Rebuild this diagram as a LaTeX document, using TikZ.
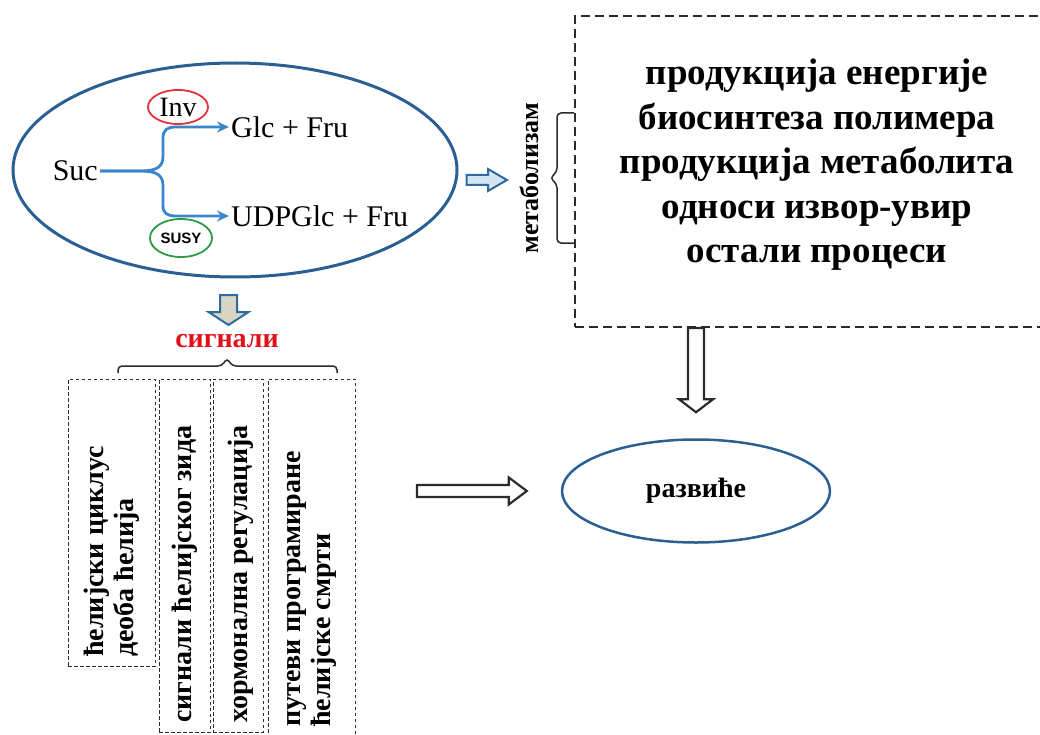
\documentclass[tikz,border=0pt]{standalone}
\usepackage{fontspec}
\setmainfont{Liberation Serif}
\newfontfamily\susyfont{Liberation Sans}
\usetikzlibrary{arrows.meta,calc,shapes.geometric}
\definecolor{ellblue}{HTML}{2A5F94}
\definecolor{rxblue}{HTML}{3A86CC}
\definecolor{arrblue}{HTML}{2E6BA3}
\definecolor{lightblue}{HTML}{D3E4F3}
\definecolor{tanfill}{HTML}{D9D5C3}
\definecolor{invred}{HTML}{E0323C}
\definecolor{susygreen}{HTML}{2A9A45}
\definecolor{sigred}{HTML}{E0101A}
\definecolor{darkline}{HTML}{2B2B2B}
\newcommand{\fsz}[1]{\fontsize{#1}{#1}\selectfont}
% block arrow to the right: style, start, end, shaft half, head half, head length
\newcommand{\blockright}[6]{\path[#1] let \p1=#2, \p2=#3 in
  (\x1,\y1+#4) -- (\x2-#6,\y1+#4) -- (\x2-#6,\y1+#5) -- (\x2,\y1) --
  (\x2-#6,\y1-#5) -- (\x2-#6,\y1-#4) -- (\x1,\y1-#4) -- cycle;}
% block arrow downwards
\newcommand{\blockdown}[6]{\path[#1] let \p1=#2, \p2=#3 in
  (\x1-#4,\y1) -- (\x1-#4,\y2+#6) -- (\x1-#5,\y2+#6) -- (\x1,\y2) --
  (\x1+#5,\y2+#6) -- (\x1+#4,\y2+#6) -- (\x1+#4,\y1) -- cycle;}
\begin{document}
\begin{tikzpicture}[x=1pt,y=-1pt,
  bigell/.style={ellipse, draw=ellblue, line width=3pt, inner sep=0pt},
  enz/.style={ellipse, line width=1.8pt, inner sep=0pt},
  rx/.style={draw=rxblue, line width=2.8pt, -{Stealth[length=12pt,width=11pt]}},
  txt/.style={inner sep=2pt, font=\fsz{30}},
  dbox/.style={draw=darkline, dash pattern=on 9pt off 5pt, line width=2pt},
  sbox/.style={draw=darkline, dash pattern=on 3.5pt off 2.5pt, line width=1pt},
  rtext/.style={rotate=90, font=\bfseries\fontsize{28}{30}\selectfont, align=left, inner sep=0pt, anchor=west},
  bracket/.style={draw=darkline, line width=1.5pt, rounded corners=4pt},
  bluearr/.style={draw=arrblue, fill=lightblue, line width=2pt, line join=miter},
  tanarr/.style={draw=arrblue, fill=tanfill, line width=2pt, line join=miter},
  openarr/.style={draw=darkline, fill=white, line width=2.2pt, line join=miter}
]
\useasboundingbox (0,0) rectangle (1040,735);

% cell ellipse with sucrose cleavage
\node[bigell, minimum width=444, minimum height=214] (cell) at (235,170) {};
\node[txt, anchor=east] (suc) at (100,171) {Suc};
\node[txt, anchor=west] (glc) at (229,127) {Glc + Fru};
\node[txt, anchor=west] (udp) at (229,216) {UDPGlc + Fru};
\node[enz, draw=invred, minimum width=60, minimum height=34, font=\fsz{28}] (inv) at (178,107) {Inv};
\node[enz, draw=susygreen, minimum width=62, minimum height=38, font=\susyfont\bfseries\fsz{15}] (susy) at (181,238) {SUSY};
\draw[rx] (suc.east) -- (140,171) .. controls (157,171) and (163,167) .. (163,156)
  -- (163,138) .. controls (163,130) and (167,127) .. (176,127) -- (glc.west);
\draw[rx] (suc.east) -- (140,171) .. controls (157,171) and (163,175) .. (163,186)
  -- (163,206) .. controls (163,213) and (167,216) .. (176,216) -- (udp.west);

% metabolism
\node[dbox, minimum width=475, minimum height=311] (metab) at (812.5,171.5) {};
\node[font=\bfseries\fontsize{37}{44.5}\selectfont, align=center, inner sep=0pt] (mtext) at (817,165)
  {продукција енергије\\биосинтеза полимера\\продукција метаболита\\односи извор-увир\\остали процеси};
\node[rotate=90, font=\bfseries\fsz{26}, inner sep=0pt] (met) at (529,178) {метаболизам};
\draw[bracket] (metab.west |- 0,113) -- (557,113) -- (557,172) -- (550,178) -- (557,184) -- (557,243) -- (metab.west |- 0,243);
\coordinate (b1s) at ([shift={(8,10)}]cell.east);
\coordinate (b1e) at (507,180);
\blockright{bluearr}{(b1s)}{(b1e)}{5pt}{11pt}{19pt}

% signals
\node[font=\bfseries\fsz{28}, text=sigred, inner sep=0pt] (sig) at (227,341) {сигнали};
\coordinate (g1s) at (228.5,295);
\coordinate (g1e) at (228.5,325);
\blockdown{tanarr}{(g1s)}{(g1e)}{8.5pt}{20pt}{13pt}
\draw[bracket] (118,373) -- (118,366) -- (222,366) -- (227,358) -- (232,366) -- (337,366) -- (337,373);

\node[sbox, minimum width=87, minimum height=287] (s1) at (111.5,522.5) {};
\node[sbox, minimum width=51, minimum height=353] (s2) at (184.5,555.5) {};
\node[sbox, minimum width=50, minimum height=353] (s3) at (238,555.5) {};
\node[sbox, minimum width=87, minimum height=370] (s4) at (311.5,564) {};
\node[rtext] (t1) at (112,657) {ћелијски циклус\\деоба ћелија};
\node[rtext] (t2) at (185,723) {сигнали ћелијског зида};
\node[rtext] (t3) at (241,723) {хормонална регулација};
\node[rtext] (t4) at (312,727) {путеви програмиране\\ћелијске смрти};

% development
\node[ellipse, draw=ellblue, line width=2.5pt, minimum width=268, minimum height=103, inner sep=0pt,
  font=\bfseries\fsz{28}] (dev) at (696,491) {развиће};
\coordinate (k1s) at ($(dev.north |- metab.south)$);
\coordinate (k1e) at ($(dev.north)+(0,-26)$);
\blockdown{openarr}{(k1s)}{(k1e)}{8pt}{17pt}{13pt}
\coordinate (r1s) at (417,491);
\coordinate (r1e) at ($(dev.west)+(-34,0)$);
\blockright{openarr}{(r1s)}{(r1e)}{6pt}{13.5pt}{18pt}
\end{tikzpicture}
\end{document}
